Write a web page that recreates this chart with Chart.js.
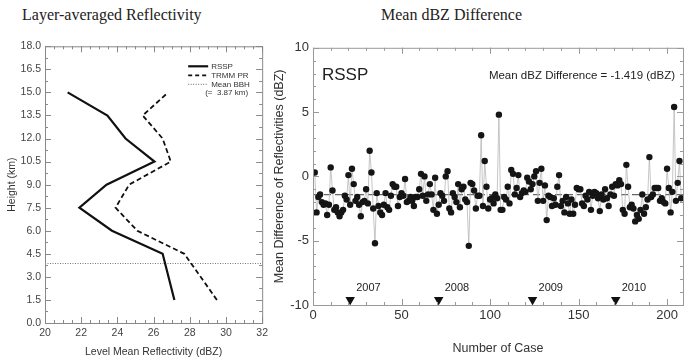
<!DOCTYPE html>
<html>
<head>
<meta charset="utf-8">
<script src="https://cdn.jsdelivr.net/npm/chart.js@4.4.1/dist/chart.umd.min.js"></script>
<style>
  body { margin: 0; background: #fff; width: 695px; height: 360px; overflow: hidden; position: relative; }
  .title { position: absolute; top: 6px; font-family: "Liberation Serif", serif; font-size: 16px; color: #222; }
  .box { position: absolute; top: 36px; height: 324px; }
</style>
</head>
<body>
<div class="title" style="left:22px">Layer-averaged Reflectivity</div>
<div class="title" style="left:381px">Mean dBZ Difference</div>
<div class="box" style="left:0; width:272px"><canvas id="leftChart"></canvas></div>
<div class="box" style="left:272px; width:423px"><canvas id="rightChart"></canvas></div>
<script>
// data panel kiri: profil reflektivitas per ketinggian
const heights = [1.5, 4.5, 6.0, 7.5, 9.0, 10.5, 12.0, 13.5, 15.0];
const rsspRefl = [27.15, 26.5, 23.7, 21.9, 23.4, 26.05, 24.45, 23.45, 21.25];
const trmmRefl = [29.5, 27.7, 25.1, 23.9, 24.65, 26.95, 26.5, 25.4, 26.8];
const meanBBH = 3.87;

// data panel kanan: selisih dBZ per kasus
const caseDiff = [
  0.3, -2.8, -1.6, -1.4, -2.0, -2.2, -2.1, -3.0, -2.2, 0.7,
  -1.1, -2.6, -2.4, -2.8, -3.1, -2.8, -2.6, -1.5, -1.8, 0.1,
  -2.2, 0.6, -0.6, -1.9, -1.6, -2.2, -3.1, -2.0, -1.9, -1.0,
  -2.1, 2.0, 0.3, -2.5, -5.2, -1.3, -2.3, -2.8, -3.0, -2.2,
  -1.3, -2.4, -2.6, -1.5, -0.6, -0.8, -0.8, -2.3, -1.6, -1.3,
  -1.5, -0.2, -2.0, -1.9, -1.6, -1.9, -2.3, -1.6, -1.6, -1.0,
  0.2, -1.5, 0.0, -1.9, -1.4, -0.6, -1.4, -2.6, -0.1, -2.9,
  -2.2, -1.3, -1.5, -1.9, 0.0, 0.4, -2.5, -2.8, -1.3, -1.6,
  -2.0, -0.6, -2.4, -1.0, -0.8, -1.8, -2.0, -5.4, -0.5, -0.6,
  -1.1, -2.5, -1.5, -1.5, 3.2, -2.3, 1.2, -0.8, -2.5, -1.8,
  -1.7, -2.1, -1.4, -1.7, 4.8, -2.6, -2.6, -1.6, -1.8, -0.8,
  -2.1, 0.5, 0.2, -1.4, -0.9, 0.1, -1.6, -1.3, -1.1, -1.2,
  -0.1, -0.4, -1.0, -0.6, 0.0, 0.4, -1.9, -0.5, 0.6, -1.9,
  -0.7, -3.4, -1.5, -1.6, -2.3, -1.7, -2.2, -0.8, 0.1, -2.3,
  -1.9, -2.8, -1.6, -2.1, -2.9, -1.8, -2.9, -2.2, -0.9, -1.0,
  -1.0, -2.1, -2.3, -1.5, -1.8, -1.2, -2.6, -1.5, -1.2, -1.3,
  -1.7, -2.7, -1.4, -1.8, -1.0, -1.7, -2.3, -1.4, -0.8, -1.5,
  -0.6, -0.7, -0.3, -0.6, -2.6, -2.9, 0.9, -0.8, -2.4, -2.2,
  -2.5, -3.5, -3.0, -3.3, -2.6, -1.4, -2.9, -2.4, -1.8, 1.5,
  -1.6, -1.4, -0.9, -0.9, -0.9, -1.9, -1.7, -2.0, -2.1, 0.6,
  -0.9, -2.8, -1.2, 5.4, -1.9, -0.5, 1.2, -1.7
];
const meanDiff = -1.419;
const yearCases = [21, 71, 124, 171];
const yearLabels = ['2007', '2008', '2009', '2010'];
const caseTicks = [0, 50, 100, 150, 200];

const FONT = '"Liberation Sans", Arial, sans-serif';

// plugin: kotak plot + tick ke dalam (mayor & minor)
const innerTicks = {
  id: 'innerTicks',
  afterDatasetsDraw(chart, args, opts) {
    const { ctx, chartArea: a } = chart;
    ctx.save();
    ctx.strokeStyle = opts.color;
    ctx.lineWidth = 1;
    ctx.strokeRect(a.left + 0.5, a.top + 0.5, a.right - a.left, a.bottom - a.top);
    const marks = (scale, step, len, horiz) => {
      const n = Math.floor((scale.max - scale.min) / step + 1e-6);
      for (let i = 0; i <= n; i++) {
        const p = Math.round(scale.getPixelForValue(scale.min + i * step)) + 0.5;
        ctx.beginPath();
        if (horiz) {
          ctx.moveTo(p, a.bottom); ctx.lineTo(p, a.bottom - len);
          ctx.moveTo(p, a.top); ctx.lineTo(p, a.top + len);
        } else {
          ctx.moveTo(a.left, p); ctx.lineTo(a.left + len, p);
          ctx.moveTo(a.right, p); ctx.lineTo(a.right - len, p);
        }
        ctx.stroke();
      }
    };
    marks(chart.scales.x, opts.xMinor, 3, true);
    marks(chart.scales.x, opts.xMajor, 6, true);
    marks(chart.scales.y, opts.yMinor, 3, false);
    marks(chart.scales.y, opts.yMajor, 6, false);
    ctx.restore();
  }
};

// legenda kecil di pojok kanan atas panel kiri
const leftLegend = {
  id: 'leftLegend',
  afterDraw(chart) {
    const { ctx, chartArea: a } = chart;
    const x0 = a.right - 74, x1 = a.right - 54, tx = a.right - 51;
    const rows = [
      { txt: 'RSSP', dash: [], w: 2.2, c: '#111', y: a.top + 20 },
      { txt: 'TRMM PR', dash: [4, 3], w: 1.8, c: '#111', y: a.top + 29 },
      { txt: 'Mean BBH', dash: [1, 1.5], w: 1, c: '#666', y: a.top + 38 }
    ];
    ctx.save();
    ctx.font = '8px ' + FONT;
    ctx.fillStyle = '#333';
    ctx.textBaseline = 'middle';
    rows.forEach(r => {
      ctx.beginPath();
      ctx.setLineDash(r.dash);
      ctx.lineWidth = r.w;
      ctx.strokeStyle = r.c;
      ctx.moveTo(x0, r.y); ctx.lineTo(x1, r.y);
      ctx.stroke();
      ctx.fillText(r.txt, tx, r.y);
    });
    ctx.fillText('(=  ' + meanBBH.toFixed(2) + ' km)', tx - 6, a.top + 46);
    ctx.restore();
  }
};

// teks di panel kanan: RSSP, rata-rata, label tahun
const rightText = {
  id: 'rightText',
  afterDraw(chart) {
    const { ctx, chartArea: a } = chart;
    ctx.save();
    ctx.fillStyle = '#222';
    ctx.textBaseline = 'middle';
    ctx.font = '17px ' + FONT;
    ctx.fillText('RSSP', a.left + 9, a.top + 28);
    ctx.font = '11.5px ' + FONT;
    ctx.textAlign = 'right';
    ctx.fillText('Mean dBZ Difference = ' + meanDiff.toFixed(3) + ' (dBZ)', a.right - 8, a.top + 28);
    ctx.textAlign = 'left';
    ctx.font = '11px ' + FONT;
    const meta = chart.getDatasetMeta(2);
    meta.data.forEach((pt, i) => {
      ctx.fillText(yearLabels[i], pt.x + 6, pt.y - 12);
    });
    ctx.restore();
  }
};

new Chart(document.getElementById('leftChart'), {
  type: 'scatter',
  data: {
    datasets: [
      {
        label: 'RSSP',
        data: heights.map((h, i) => ({ x: rsspRefl[i], y: h })),
        showLine: true, borderColor: '#111', borderWidth: 2.2, pointRadius: 0
      },
      {
        label: 'TRMM PR',
        data: heights.map((h, i) => ({ x: trmmRefl[i], y: h })),
        showLine: true, borderColor: '#111', borderWidth: 1.8, borderDash: [5, 3], pointRadius: 0
      },
      {
        label: 'Mean BBH',
        data: [{ x: 20, y: meanBBH }, { x: 32, y: meanBBH }],
        showLine: true, borderColor: '#777', borderWidth: 1, borderDash: [1, 1.5], pointRadius: 0
      }
    ]
  },
  plugins: [innerTicks, leftLegend],
  options: {
    responsive: true,
    maintainAspectRatio: false,
    animation: false,
    layout: { padding: { top: 10, right: 8, left: 4, bottom: 0 } },
    plugins: {
      legend: { display: false },
      tooltip: { enabled: false },
      innerTicks: { color: '#888', xMajor: 2, xMinor: 0.5, yMajor: 1.5, yMinor: 0.75 }
    },
    scales: {
      x: {
        type: 'linear', min: 20, max: 32,
        grid: { display: false, drawTicks: false },
        border: { display: false },
        ticks: { stepSize: 2, padding: 4, color: '#444', font: { family: FONT, size: 10.5 } },
        title: { display: true, text: 'Level Mean Reflectivity (dBZ)', color: '#333', padding: { top: 2, bottom: 2 }, font: { family: FONT, size: 10.5 } },
        afterFit: s => { s.height = 37; }
      },
      y: {
        type: 'linear', min: 0, max: 18,
        grid: { display: false, drawTicks: false },
        border: { display: false },
        ticks: { stepSize: 1.5, padding: 4, color: '#444', font: { family: FONT, size: 10.5 }, callback: v => v.toFixed(1) },
        title: { display: true, text: 'Height (km)', color: '#333', padding: { top: 2, bottom: 2 }, font: { family: FONT, size: 10.5 } },
        afterFit: s => { s.width = 41; }
      }
    }
  }
});

new Chart(document.getElementById('rightChart'), {
  type: 'scatter',
  data: {
    datasets: [
      {
        label: 'diff',
        data: caseDiff.map((v, i) => ({ x: i + 1, y: v })),
        showLine: true, borderColor: '#b8b8b8', borderWidth: 0.8,
        pointRadius: 3.2, pointBackgroundColor: '#151515', pointBorderWidth: 0, order: 0
      },
      {
        label: 'mean',
        data: [{ x: 0, y: meanDiff }, { x: caseDiff.length + 1, y: meanDiff }],
        showLine: true, borderColor: '#666', borderWidth: 1.2, borderDash: [7, 4], pointRadius: 0, order: 1
      },
      {
        label: 'year',
        data: yearCases.map(c => ({ x: c, y: -9.6 })),
        pointStyle: 'triangle', rotation: 180, pointRadius: 5.5,
        pointBackgroundColor: '#111', pointBorderWidth: 0, order: 0
      }
    ]
  },
  plugins: [innerTicks, rightText],
  options: {
    responsive: true,
    maintainAspectRatio: false,
    animation: false,
    layout: { padding: { top: 11, right: 12, left: 0, bottom: 0 } },
    plugins: {
      legend: { display: false },
      tooltip: { enabled: false },
      innerTicks: { color: '#999', xMajor: 50, xMinor: 10, yMajor: 5, yMinor: 1 }
    },
    scales: {
      x: {
        type: 'linear', min: 0, max: caseDiff.length + 1,
        grid: { display: false, drawTicks: false },
        border: { display: false },
        ticks: { padding: 3, color: '#333', font: { family: FONT, size: 13 } },
        afterBuildTicks: s => { s.ticks = caseTicks.map(v => ({ value: v })); },
        title: { display: true, text: 'Number of Case', color: '#333', padding: { top: 2, bottom: 4 }, font: { family: FONT, size: 12.5 } },
        afterFit: s => { s.height = 55; }
      },
      y: {
        type: 'linear', min: -10, max: 10,
        grid: { display: false, drawTicks: false },
        border: { display: false },
        ticks: { stepSize: 5, padding: 4, color: '#333', font: { family: FONT, size: 13 } },
        title: { display: true, text: 'Mean Difference of Reflectivities (dBZ)', color: '#333', padding: { top: 0, bottom: 2 }, font: { family: FONT, size: 12.5 } },
        afterFit: s => { s.width = 41; }
      }
    }
  }
});
</script>
</body>
</html>
